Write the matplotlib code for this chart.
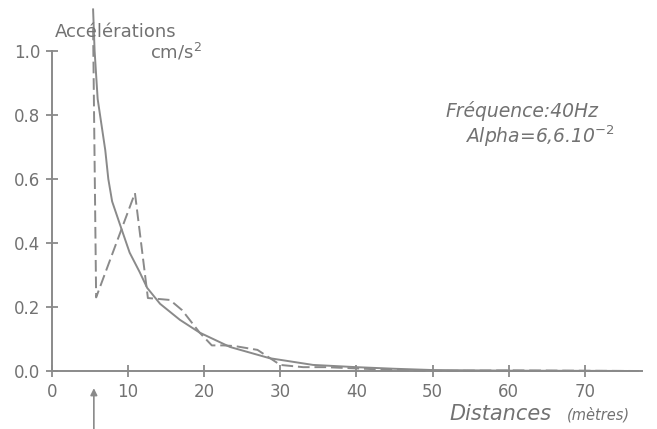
import numpy as np
import matplotlib
matplotlib.use("Agg")
import matplotlib.pyplot as plt

# solid curve (theoretical)
solid_x = [5.4, 5.6, 6.0, 7.0, 7.4, 7.9, 8.9, 10.2, 11.5, 12.5, 14.2, 16.8, 19.4,
           23.4, 28.6, 34.3, 40.0, 45.0, 50.0, 60.0, 77.0]
solid_y = [1.13, 1.0, 0.85, 0.69, 0.60, 0.53, 0.46, 0.37, 0.31, 0.26, 0.21, 0.16, 0.12,
           0.075, 0.04, 0.019, 0.012, 0.007, 0.003, 0.001, 0.0]

# dashed curve (measured)
dashed_x = [5.4, 5.8, 10.9, 12.6, 15.5, 17.1, 19.4, 21.0, 22.5, 24.0, 27.0, 30.0,
            33.0, 36.0, 40.0, 44.0, 50.0, 60.0, 77.0]
dashed_y = [1.07, 0.23, 0.556, 0.228, 0.222, 0.19, 0.12, 0.08, 0.08, 0.078, 0.066, 0.019,
            0.012, 0.012, 0.008, 0.004, 0.0, 0.002, 0.0]

xticks = [0, 10, 20, 30, 40, 50, 60, 70]
yticks = [0.0, 0.2, 0.4, 0.6, 0.8, 1.0]

grey = "#727272"
lgrey = "#8a8a8a"

W, H = 657, 429
fig = plt.figure(figsize=(W / 100, H / 100), dpi=100)

# axes placed so that (0,0) sits at pixel (52, 371)
ax = fig.add_axes([52 / W, (H - 371) / H, 598 / W, 371 / H])
ax.set_xlim(0, 598 / 7.61)
ax.set_ylim(0, 371 / 320)

ax.plot(solid_x, solid_y, color=lgrey, lw=1.4, clip_on=False)
ax.plot(dashed_x, dashed_y, color=lgrey, lw=1.4, dashes=(6, 2.5), clip_on=False)

for s in ["top", "right"]:
    ax.spines[s].set_visible(False)
ax.spines["left"].set_bounds(0, 1.0)
ax.spines["bottom"].set_bounds(0, 77.5)
for s in ["left", "bottom"]:
    ax.spines[s].set_color(lgrey)
    ax.spines[s].set_linewidth(1.4)

ax.set_xticks(xticks)
ax.set_xticklabels([str(t) for t in xticks])
ax.set_yticks(yticks)
ax.set_yticklabels(["%.1f" % t for t in yticks])
ax.tick_params(direction="inout", length=9, width=1.3, color=lgrey,
               labelcolor=grey, labelsize=12)
ax.tick_params(axis="x", pad=4)
ax.tick_params(axis="y", pad=4)

# labels
fig.text(55 / W, 1 - 37 / H, "Accélérations", color=grey, fontsize=13, va="baseline")
fig.text(150 / W, 1 - 58 / H, "cm/s$^2$", color=grey, fontsize=13, va="baseline")
fig.text(445 / W, 1 - 117 / H, "Fréquence:40Hz", color=grey, fontsize=13.5,
         style="italic", va="baseline")
fig.text(465 / W, 1 - 143 / H, "Alpha=6,6.10$^{-2}$", color=grey, fontsize=13.5,
         style="italic", va="baseline")
fig.text(449 / W, 1 - 420 / H, "Distances", color=grey, fontsize=15,
         style="italic", va="baseline")
fig.text(567 / W, 1 - 420 / H, "(mètres)", color=grey, fontsize=10.5,
         style="italic", va="baseline")

# little arrow under the axis at the source point
ax.annotate("", xy=(5.5, -0.045), xytext=(5.5, -0.2),
            arrowprops=dict(arrowstyle="-|>", color=lgrey, lw=1.2),
            annotation_clip=False)

fig.savefig("out.png", dpi=100)
